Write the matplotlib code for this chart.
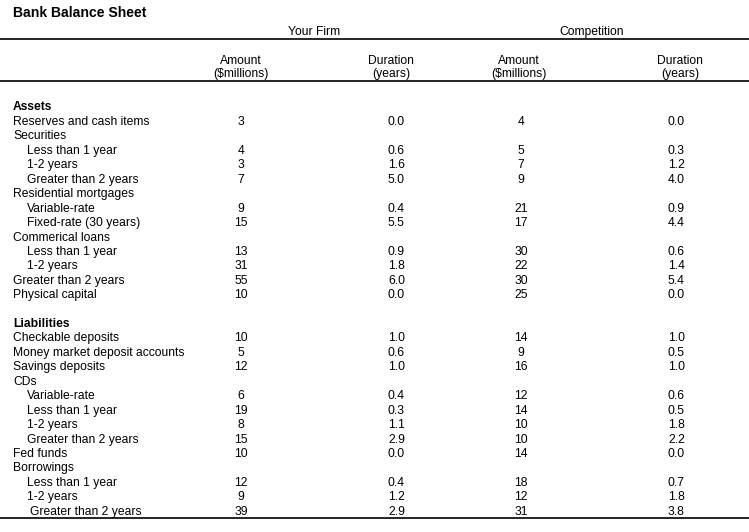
import matplotlib.pyplot as plt

plt.rcParams['font.family'] = ['Liberation Sans', 'DejaVu Sans']

# table content
title = "Bank Balance Sheet"
groups = ["Your Firm", "Competition"]
col_heads = ["Amount\n($millions)", "Duration\n(years)", "Amount\n($millions)", "Duration\n(years)"]

asset_labels = ["Reserves and cash items", "Securities", "Less than 1 year", "1-2 years",
                "Greater than 2 years", "Residential mortgages", "Variable-rate",
                "Fixed-rate (30 years)", "Commerical loans", "Less than 1 year", "1-2 years",
                "Greater than 2 years", "Physical capital"]
asset_indent = [0, 0, 1, 1, 1, 0, 1, 1, 0, 1, 1, 0, 0]
asset_amt_firm = [3, None, 4, 3, 7, None, 9, 15, None, 13, 31, 55, 10]
asset_dur_firm = [0.0, None, 0.6, 1.6, 5.0, None, 0.4, 5.5, None, 0.9, 1.8, 6.0, 0.0]
asset_amt_comp = [4, None, 5, 7, 9, None, 21, 17, None, 30, 22, 30, 25]
asset_dur_comp = [0.0, None, 0.3, 1.2, 4.0, None, 0.9, 4.4, None, 0.6, 1.4, 5.4, 0.0]

liab_labels = ["Checkable deposits", "Money market deposit accounts", "Savings deposits", "CDs",
               "Variable-rate", "Less than 1 year", "1-2 years", "Greater than 2 years",
               "Fed funds", "Borrowings", "Less than 1 year", "1-2 years", "Greater than 2 years"]
liab_indent = [0, 0, 0, 0, 1, 1, 1, 1, 0, 0, 1, 1, 1.2]
liab_amt_firm = [10, 5, 12, None, 6, 19, 8, 15, 10, None, 12, 9, 39]
liab_dur_firm = [1.0, 0.6, 1.0, None, 0.4, 0.3, 1.1, 2.9, 0.0, None, 0.4, 1.2, 2.9]
liab_amt_comp = [14, 9, 16, None, 12, 14, 10, 10, 14, None, 18, 12, 31]
liab_dur_comp = [1.0, 0.5, 1.0, None, 0.6, 0.5, 1.8, 2.2, 0.0, None, 0.7, 1.8, 3.8]

# layout in pixels
W, H = 749, 532
fig = plt.figure(figsize=(W / 100, H / 100), dpi=100)
ax = fig.add_axes([0, 0, 1, 1])
ax.set_xlim(0, W)
ax.set_ylim(H, 0)
ax.axis('off')

fs = 8.7
col_x = [241, 388, 521, 668]
col_ha = ['center', 'left', 'center', 'left']
head_x = [241, 391, 519, 680]
row_h = 14.45

ax.text(13, 13, title, fontsize=10.1, fontweight='bold', va='center', ha='left')
ax.text(314, 32, groups[0], fontsize=fs, va='center', ha='center')
ax.text(592, 32, groups[1], fontsize=fs, va='center', ha='center')
for y in (39, 81, 518):
    ax.plot([0, W], [y, y], color='black', lw=1.2, solid_capstyle='butt')
for x, h in zip(head_x, col_heads):
    ax.text(x, 67.5, h, fontsize=fs, va='center', ha='center', linespacing=1.12)


def section(y0, heading, labels, indent, cols):
    ax.text(13, y0, heading, fontsize=fs, fontweight='bold', va='center', ha='left')
    for i, lab in enumerate(labels):
        y = y0 + (i + 1) * row_h
        ax.text(13 + 14 * indent[i], y, lab, fontsize=fs, va='center', ha='left')
        for j, vals in enumerate(cols):
            v = vals[i]
            if v is None:
                continue
            s = f"{v:.1f}" if j % 2 else f"{v}"
            ax.text(col_x[j], y, s, fontsize=fs, va='center', ha=col_ha[j])


section(107.5, "Assets", asset_labels, asset_indent,
        [asset_amt_firm, asset_dur_firm, asset_amt_comp, asset_dur_comp])
section(324, "Liabilities", liab_labels, liab_indent,
        [liab_amt_firm, liab_dur_firm, liab_amt_comp, liab_dur_comp])

fig.savefig('out.png', dpi=100, facecolor='white')
